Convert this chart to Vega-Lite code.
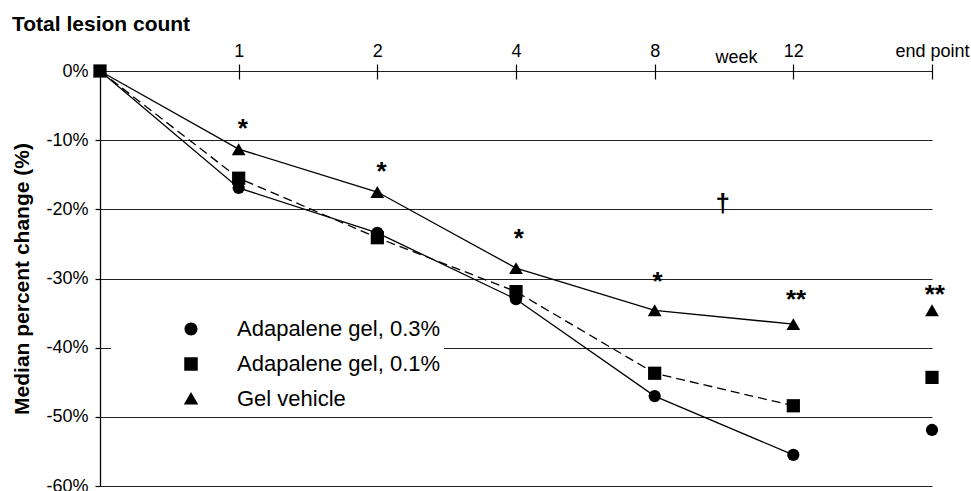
{
  "$schema": "https://vega.github.io/schema/vega-lite/v6.json",
  "width": 832,
  "height": 415,
  "autosize": "none",
  "padding": {"left": 100, "top": 71, "right": 39, "bottom": 5},
  "background": "white",
  "config": {"view": {"stroke": null}, "font": "Liberation Sans"},
  "title": {"text": "Total lesion count", "anchor": "start", "frame": "group", "dx": -88, "offset": 7, "fontSize": 21, "fontWeight": "bold", "font": "Liberation Sans", "color": "black"},
  "datasets": {
    "series": [
      {"group": "Adapalene gel, 0.3%", "pos": 0, "value": 0},
      {"group": "Adapalene gel, 0.3%", "pos": 1, "value": -16.9},
      {"group": "Adapalene gel, 0.3%", "pos": 2, "value": -23.4},
      {"group": "Adapalene gel, 0.3%", "pos": 3, "value": -33.0},
      {"group": "Adapalene gel, 0.3%", "pos": 4, "value": -47.0},
      {"group": "Adapalene gel, 0.3%", "pos": 5, "value": -55.5},
      {"group": "Adapalene gel, 0.3%", "pos": 6, "value": -51.9},
      {"group": "Gel vehicle", "pos": 0, "value": 0},
      {"group": "Gel vehicle", "pos": 1, "value": -11.3},
      {"group": "Gel vehicle", "pos": 2, "value": -17.5},
      {"group": "Gel vehicle", "pos": 3, "value": -28.5},
      {"group": "Gel vehicle", "pos": 4, "value": -34.6},
      {"group": "Gel vehicle", "pos": 5, "value": -36.6},
      {"group": "Gel vehicle", "pos": 6, "value": -34.6},
      {"group": "Adapalene gel, 0.1%", "pos": 0, "value": 0},
      {"group": "Adapalene gel, 0.1%", "pos": 1, "value": -15.5},
      {"group": "Adapalene gel, 0.1%", "pos": 2, "value": -24.1},
      {"group": "Adapalene gel, 0.1%", "pos": 3, "value": -31.9},
      {"group": "Adapalene gel, 0.1%", "pos": 4, "value": -43.7},
      {"group": "Adapalene gel, 0.1%", "pos": 5, "value": -48.4},
      {"group": "Adapalene gel, 0.1%", "pos": 6, "value": -44.3}
    ],
    "notes": [
      {"pos": 1.03, "value": -8.4, "label": "*"},
      {"pos": 2.03, "value": -14.6, "label": "*"},
      {"pos": 3.02, "value": -24.3, "label": "*"},
      {"pos": 4.02, "value": -30.5, "label": "*"},
      {"pos": 5.02, "value": -33.1, "label": "**"},
      {"pos": 6.02, "value": -32.4, "label": "**"},
      {"pos": 4.49, "value": -19.2, "label": "†"}
    ]
  },
  "layer": [
    {
      "data": {"name": "series"},
      "transform": [{"filter": "datum.pos <= 5 && datum.group !== 'Adapalene gel, 0.1%'"}],
      "mark": {"type": "line", "color": "black", "strokeWidth": 1.3},
      "encoding": {
        "x": {"field": "pos", "type": "quantitative", "scale": {"domain": [0, 6], "nice": false, "zero": false},
          "axis": {"orient": "top", "values": [1, 2, 3, 4, 5, 6], "labelExpr": "['0','1','2','4','8','12','end point'][datum.value]",
            "domain": false, "grid": false, "tickSize": 15, "offset": -8, "tickColor": "black", "tickWidth": 1.2,
            "labelFontSize": 18, "labelPadding": 4, "labelColor": "black", "labelFont": "Liberation Sans", "labelFlush": false, "labelOverlap": false,
            "title": "week", "titleFontSize": 18, "titleFontWeight": "normal", "titleFont": "Liberation Sans", "titleX": 636, "titleY": -17,
            "titleAlign": "center", "titleBaseline": "alphabetic", "titleColor": "black"}},
        "y": {"field": "value", "type": "quantitative", "scale": {"domain": [-60, 0], "nice": false},
          "axis": {"orient": "left", "values": [0, -10, -20, -30, -40, -50, -60], "labelExpr": "datum.value + '%'",
            "tickSize": 5, "tickColor": "black", "tickWidth": 1.2, "labelPadding": 7, "labelFontSize": 18, "labelColor": "black", "labelFont": "Liberation Sans",
            "domain": true, "domainColor": "black", "domainWidth": 1.3, "grid": true, "gridColor": "#222", "gridWidth": 1.2, "gridOpacity": 1,
            "title": "Median percent change (%)", "titleFontSize": 21, "titleFontWeight": "bold", "titleFont": "Liberation Sans", "titleColor": "black",
            "titleX": -72, "titleY": 207.5, "titleAngle": -90, "titleAlign": "center", "titleBaseline": "alphabetic"}},
        "detail": {"field": "group", "type": "nominal"}
      }
    },
    {
      "data": {"name": "series"},
      "transform": [{"filter": "datum.pos <= 5 && datum.group === 'Adapalene gel, 0.1%'"}],
      "mark": {"type": "line", "color": "black", "strokeWidth": 1.3, "strokeDash": [9, 5]},
      "encoding": {
        "x": {"field": "pos", "type": "quantitative"},
        "y": {"field": "value", "type": "quantitative"}
      }
    },
    {
      "data": {"name": "series"},
      "transform": [{"filter": "datum.group === 'Adapalene gel, 0.3%'"}],
      "mark": {"type": "point", "shape": "circle", "filled": true, "color": "black", "opacity": 1, "size": 150},
      "encoding": {
        "x": {"field": "pos", "type": "quantitative"},
        "y": {"field": "value", "type": "quantitative"}
      }
    },
    {
      "data": {"name": "series"},
      "transform": [{"filter": "datum.group === 'Gel vehicle'"}],
      "mark": {"type": "point", "shape": "triangle-up", "filled": true, "color": "black", "opacity": 1, "size": 190},
      "encoding": {
        "x": {"field": "pos", "type": "quantitative"},
        "y": {"field": "value", "type": "quantitative"}
      }
    },
    {
      "data": {"name": "series"},
      "transform": [{"filter": "datum.group === 'Adapalene gel, 0.1%'"}],
      "mark": {"type": "point", "shape": "square", "filled": true, "color": "black", "opacity": 1, "size": 175},
      "encoding": {
        "x": {"field": "pos", "type": "quantitative"},
        "y": {"field": "value", "type": "quantitative"}
      }
    },
    {
      "data": {"name": "series"},
      "transform": [{"filter": "datum.pos < 0"}],
      "mark": {"type": "point", "filled": true, "color": "black", "opacity": 1},
      "encoding": {
        "x": {"field": "pos", "type": "quantitative"},
        "y": {"field": "value", "type": "quantitative"},
        "shape": {"field": "group", "type": "nominal",
          "scale": {"domain": ["Adapalene gel, 0.3%", "Adapalene gel, 0.1%", "Gel vehicle"],
            "range": ["M-1,0H11M3.7,0A1.3,1.3,0,1,1,6.3,0A1.3,1.3,0,1,1,3.7,0Z", "M-1,0H0.2M1.2,0H2.4M7.6,0H8.8M9.8,0H11M3.65,-1.35H6.35V1.35H3.65Z", "M-1,0H11M5,-1.4L6.45,1.1L3.55,1.1Z"]},
          "legend": {"orient": "none", "legendX": 11, "legendY": 244, "fillColor": "white", "padding": 3,
            "title": " ", "titleOrient": "left", "titlePadding": 41, "titleFontSize": 13,
            "labelFontSize": 22, "labelFont": "Liberation Sans", "labelColor": "black", "labelOffset": 60, "labelLimit": 400,
            "symbolSize": 100, "rowPadding": 13, "symbolFillColor": "black", "symbolStrokeColor": "black", "symbolStrokeWidth": 1.3, "symbolOpacity": 1}}
      }
    },
    {
      "data": {"name": "notes"},
      "mark": {"type": "text", "fontSize": 26, "fontWeight": "bold", "font": "Liberation Sans", "baseline": "middle", "align": "center", "color": "black"},
      "encoding": {
        "x": {"field": "pos", "type": "quantitative"},
        "y": {"field": "value", "type": "quantitative"},
        "text": {"field": "label"}
      }
    }
  ]
}
